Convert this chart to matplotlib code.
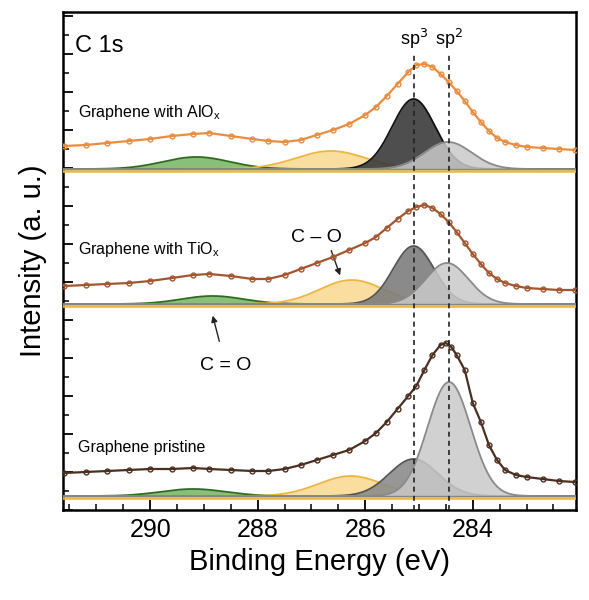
import numpy as np
import matplotlib
matplotlib.use("Agg")
import matplotlib.pyplot as plt
from matplotlib.ticker import MultipleLocator

# ---- data (binding energy eV, intensity arb.) ----
E_alox = [291.6,291.2,290.8,290.4,290.0,289.6,289.2,288.9,288.5,288.1,287.8,287.5,287.2,286.9,286.6,286.3,286.0,285.8,285.6,285.4,285.2,285.05,284.9,284.75,284.6,284.45,284.3,284.15,284.0,283.85,283.7,283.55,283.4,283.2,283.0,282.7,282.4,282.1]
I_alox = [364,365,367,369,371,374,376,377,374,371,369,368,370,375,380,386,395,403,414,426,438,445,446,443,436,428,419,409,398,388,379,372,368,365,363,362,361,360]
E_tiox = [291.6,291.2,290.8,290.4,290.0,289.6,289.2,288.9,288.5,288.1,287.8,287.5,287.2,286.9,286.6,286.3,286.0,285.8,285.6,285.4,285.2,285.05,284.9,284.75,284.6,284.45,284.3,284.15,284.0,283.85,283.7,283.55,283.4,283.2,283.0,282.7,282.4,282.1]
I_tiox = [224,225,226,227,229,232,235,236,234,231,231,235,241,247,253,260,267,273,282,291,299,303,305,302,296,288,278,267,256,246,237,231,227,224,222,221,220,220]
E_prist = [291.6,291.2,290.8,290.4,290.0,289.6,289.2,288.9,288.5,288.1,287.8,287.5,287.2,286.9,286.6,286.3,286.0,285.8,285.6,285.4,285.2,285.05,284.9,284.75,284.6,284.5,284.4,284.3,284.15,284.0,283.85,283.7,283.55,283.4,283.2,283.0,282.7,282.4,282.1]
I_prist = [37,38,39,40,41,41,42,41,40,39,39,41,45,50,55,60,69,77,88,101,114,124,140,155,165,167,163,155,140,107,88,65,50,40,35,33,31,29,28]

# fitted components: (center eV, amplitude, sigma eV); baselines
base = {"alox": 341, "tiox": 206, "prist": 14}
co_o_dbl = {"alox": (289.14, 12, 0.62), "tiox": (288.84, 8, 0.58), "prist": (289.2, 7, 0.6)}
c_o = {"alox": (286.64, 18, 0.65), "tiox": (286.25, 24, 0.6), "prist": (286.27, 20, 0.6)}
sp3 = {"alox": (285.1, 70, 0.4), "tiox": (285.1, 58, 0.38), "prist": (285.1, 37, 0.45)}
sp2 = {"alox": (284.46, 27, 0.44), "tiox": (284.48, 41, 0.4), "prist": (284.44, 114, 0.4)}
sp3_col = {"alox": "#3b3b3b", "tiox": "#7d7d7d", "prist": "#8c8c8c"}
line_col = {"alox": "#E98C3E", "tiox": "#A4552D", "prist": "#4B2F20"}
labels = {"alox": "Graphene with AlO$_\\mathregular{x}$", "tiox": "Graphene with TiO$_\\mathregular{x}$",
          "prist": "Graphene pristine"}
label_y = {"alox": 393, "tiox": 256, "prist": 58}
dash_pos = [285.1, 284.44]

plt.rcParams['font.family'] = ['Liberation Sans', 'DejaVu Sans']
fig = plt.figure(figsize=(5.89, 6.0), dpi=100)
ax = fig.add_axes([0.107, 0.15, 0.871, 0.83])
xs = np.linspace(291.7, 282.0, 800)

def g(p):
    c, a, s = p
    return a * np.exp(-0.5 * ((xs - c) / s) ** 2)

for k in ["prist", "tiox", "alox"]:
    b = base[k]
    for p, fc, ec, z in [(co_o_dbl[k], "#7DB86A", "#2E6B1F", 2), (c_o[k], "#FADB95", "#EDB642", 2),
                         (sp3[k], sp3_col[k], "#555555" if k != "alox" else "#111111", 3),
                         (sp2[k], "#C9C9C9", "#8a8a8a", 4)]:
        y = b + g(p)
        ax.fill_between(xs, b, y, color=fc, alpha=0.9 if fc != "#C9C9C9" else 0.85, lw=0, zorder=z)
        ax.plot(xs, y, color=ec, lw=1.3, zorder=z + 0.5)
    ax.plot(xs, np.full_like(xs, b - 1.5), color="#EDB642", lw=1.8, zorder=5)
    ax.plot(xs, np.full_like(xs, b + 0.5), color="#888888", lw=1.0, zorder=5)

for E, I, k in [(E_alox, I_alox, "alox"), (E_tiox, I_tiox, "tiox"), (E_prist, I_prist, "prist")]:
    ax.plot(E, I, color=line_col[k], lw=1.6, zorder=6)
    ax.plot(E, I, 'o', mfc='none', mec=line_col[k], ms=3.5, mew=1.0, zorder=6)
    ax.text(291.35, label_y[k], labels[k], fontsize=11.5, zorder=7)

for d in dash_pos:
    ax.plot([d, d], [0, 458], ls=(0, (3, 2.5)), color="#222222", lw=1.2, zorder=8)

ax.text(291.4, 458, "C 1s", fontsize=17)
ax.text(285.1, 465, "sp$^3$", fontsize=13, ha="center")
ax.text(284.44, 465, "sp$^2$", fontsize=13, ha="center")
ax.text(286.9, 268, "C – O", fontsize=14, ha="center")
ax.annotate("", xy=(286.45, 232), xytext=(286.65, 262),
            arrowprops=dict(arrowstyle="-|>", color="#222222", lw=1.0, mutation_scale=9))
ax.text(288.6, 140, "C = O", fontsize=14, ha="center")
ax.annotate("", xy=(288.85, 197), xytext=(288.7, 166),
            arrowprops=dict(arrowstyle="-|>", color="#222222", lw=1.0, mutation_scale=9))

ax.set_xlim(291.62, 282.08)
ax.set_ylim(0, 498)
ax.xaxis.set_major_locator(MultipleLocator(2))
ax.xaxis.set_minor_locator(MultipleLocator(0.5))
ax.yaxis.set_major_locator(MultipleLocator(38))
ax.yaxis.set_minor_locator(MultipleLocator(19))
ax.set_yticklabels([])
ax.tick_params(axis='both', which='both', direction='in', top=False, right=False)
ax.tick_params(axis='both', which='major', length=7, width=1.3)
ax.tick_params(axis='both', which='minor', length=4, width=1.1)
ax.tick_params(axis='x', labelsize=18, pad=6)
for s in ax.spines.values():
    s.set_linewidth(1.8)
ax.set_xlabel("Binding Energy (eV)", fontsize=21)
ax.set_ylabel("Intensity (a. u.)", fontsize=21, labelpad=8)
fig.savefig("out.png", dpi=100)
